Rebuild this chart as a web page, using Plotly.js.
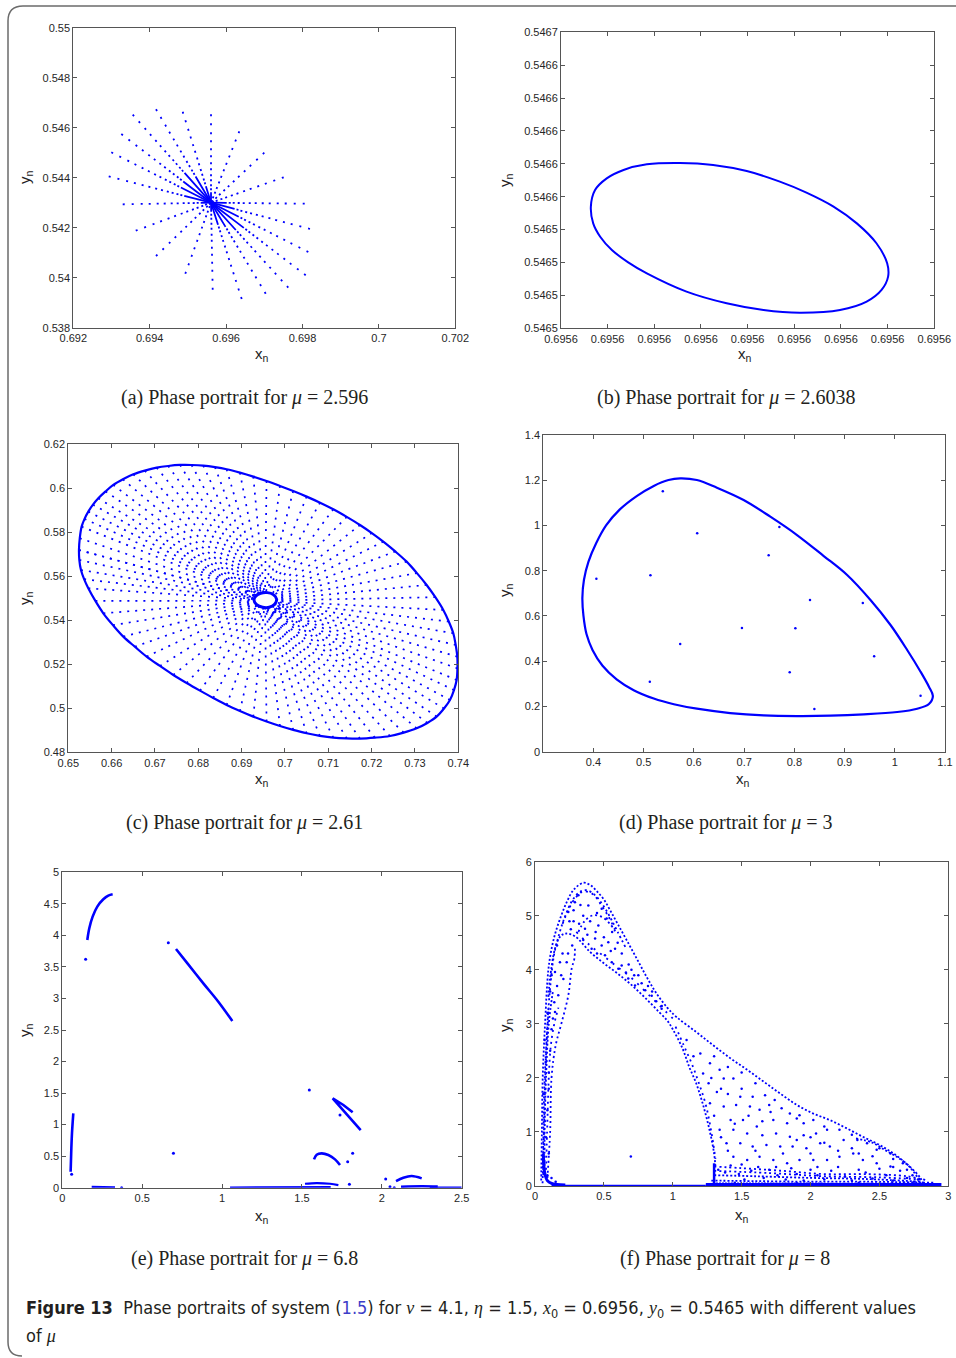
<!DOCTYPE html>
<html>
<head>
<meta charset="utf-8">
<script src="https://cdn.plot.ly/plotly-3.0.1.min.js"></script>
<style>
  html, body { margin: 0; padding: 0; background: #ffffff; }
  #fig { width: 956px; height: 1358px; }
</style>
</head>
<body>
<div id="fig"></div>
<script>
// ---------------- (a) mu = 2.596 : orbit collapsing onto the fixed point ----------------
const aCenter = [0.695605, 0.543000];
const aRayEndX = [0.694165, 0.694864, 0.695605, 0.693555, 0.696346, 0.693257, 0.697000, 0.692995,
                  0.692927, 0.697508, 0.693293, 0.698058, 0.693634, 0.698196, 0.694165, 0.698152,
                  0.694932, 0.698084, 0.695649, 0.697628, 0.696408, 0.697037];
const aRayEndY = [0.546736, 0.546640, 0.546536, 0.546520, 0.545856, 0.545748, 0.545000, 0.545016,
                  0.544056, 0.544016, 0.542936, 0.542960, 0.541880, 0.541948, 0.540868, 0.541028,
                  0.540160, 0.540096, 0.539520, 0.539600, 0.539148, 0.539360];
const aTickX = [0.692, 0.694, 0.696, 0.698, 0.700, 0.702];
const aTickXText = ['0.692', '0.694', '0.696', '0.698', '0.7', '0.702'];
const aTickY = [0.538, 0.540, 0.542, 0.544, 0.546, 0.548, 0.550];
const aTickYText = ['0.538', '0.54', '0.542', '0.544', '0.546', '0.548', '0.55'];

// ---------------- (b) mu = 2.6038 : small invariant closed curve ----------------
const bX = [0.6955855, 0.6955926, 0.6955998, 0.6956069, 0.6956126, 0.6956184, 0.6956234, 0.6956276,
            0.6956299, 0.6956301, 0.6956287, 0.6956255, 0.6956198, 0.6956112, 0.6956034, 0.6955955,
            0.6955869, 0.6955784, 0.6955744, 0.6955709, 0.6955684, 0.6955669, 0.6955664, 0.6955673,
            0.6955698, 0.6955734, 0.6955784, 0.6955855];
const bY = [0.5465805, 0.5465793, 0.5465756, 0.5465692, 0.5465625, 0.5465540, 0.5465438, 0.5465317,
            0.5465195, 0.5465114, 0.5465033, 0.5464962, 0.5464911, 0.5464895, 0.5464911, 0.5464952,
            0.5465023, 0.5465134, 0.5465201, 0.5465276, 0.5465357, 0.5465438, 0.5465540, 0.5465641,
            0.5465712, 0.5465763, 0.5465797, 0.5465805];
const bTickX = [0.69556, 0.69557, 0.69558, 0.69559, 0.69560, 0.69561, 0.69562, 0.69563, 0.69564];
const bTickXText = ['0.6956', '0.6956', '0.6956', '0.6956', '0.6956', '0.6956', '0.6956', '0.6956', '0.6956'];
const bTickY = [0.54648, 0.54650, 0.54652, 0.54654, 0.54656, 0.54658, 0.54660, 0.54662, 0.54664, 0.54666];
const bTickYText = ['0.5465', '0.5465', '0.5465', '0.5465', '0.5466', '0.5466', '0.5466', '0.5466', '0.5466', '0.5467'];

// ---------------- (c) mu = 2.61 : orbit spiralling out to the invariant circle ----------------
const cCenter = [0.695385, 0.548939];
const cEdgeX = [0.652462, 0.652650, 0.653077, 0.653750, 0.654615, 0.655700, 0.656923, 0.658600,
                0.660385, 0.662600, 0.665000, 0.667650, 0.670385, 0.673050, 0.675769, 0.678450,
                0.681154, 0.683850, 0.686538, 0.689600, 0.692692, 0.695750, 0.698846, 0.701900,
                0.705000, 0.708100, 0.711154, 0.714250, 0.717308, 0.720050, 0.722692, 0.725450,
                0.728077, 0.730450, 0.732692, 0.734700, 0.736538, 0.737800, 0.738846, 0.739400,
                0.739769, 0.739800, 0.739615, 0.739000, 0.738077, 0.736700, 0.735000, 0.732850,
                0.730385, 0.727400, 0.724231, 0.720750, 0.717308, 0.714250, 0.711154, 0.708050,
                0.705000, 0.701900, 0.698846, 0.695750, 0.692692, 0.689600, 0.686538, 0.683450,
                0.680385, 0.677300, 0.674231, 0.671150, 0.668077, 0.665350, 0.662692, 0.660300,
                0.658077, 0.656250, 0.654615, 0.653650, 0.652923, 0.652550, 0.652462];
const cEdgeY = [0.571970, 0.577300, 0.582576, 0.586100, 0.589394, 0.592550, 0.595455, 0.598600,
                0.601515, 0.604100, 0.606364, 0.608050, 0.609394, 0.610150, 0.610606, 0.610600,
                0.610303, 0.609600, 0.608636, 0.607100, 0.605303, 0.603300, 0.601061, 0.598750,
                0.596212, 0.593450, 0.590455, 0.587000, 0.583333, 0.579650, 0.575758, 0.571300,
                0.566667, 0.561450, 0.556061, 0.550500, 0.544697, 0.539450, 0.534091, 0.528800,
                0.523485, 0.518150, 0.512879, 0.508300, 0.503788, 0.499900, 0.496212, 0.493350,
                0.490909, 0.488950, 0.487424, 0.486650, 0.486212, 0.486300, 0.486667, 0.487500,
                0.488636, 0.490200, 0.491970, 0.494000, 0.496212, 0.498750, 0.501515, 0.504700,
                0.508030, 0.511500, 0.515152, 0.519250, 0.523485, 0.528000, 0.532576, 0.537800,
                0.543182, 0.548800, 0.554545, 0.558700, 0.562879, 0.567400, 0.571970];
const cHoleX = [0.692846, 0.693308, 0.694385, 0.695923, 0.697308, 0.698077, 0.697615, 0.696385,
                0.694846, 0.693462, 0.692846];
const cHoleY = [0.549242, 0.551061, 0.552273, 0.552576, 0.551667, 0.549545, 0.547273, 0.545909,
                0.545909, 0.547121, 0.549242];
const cTickX = [0.65, 0.66, 0.67, 0.68, 0.69, 0.70, 0.71, 0.72, 0.73, 0.74];
const cTickXText = ['0.65', '0.66', '0.67', '0.68', '0.69', '0.7', '0.71', '0.72', '0.73', '0.74'];
const cTickY = [0.48, 0.50, 0.52, 0.54, 0.56, 0.58, 0.60, 0.62];
const cTickYText = ['0.48', '0.5', '0.52', '0.54', '0.56', '0.58', '0.6', '0.62'];

// ---------------- (d) mu = 3 : closed invariant curve and transient iterates ----------------
const dLoopX = [0.8053, 0.7388, 0.6723, 0.6059, 0.5600, 0.5200, 0.4800, 0.4460, 0.4180, 0.3980,
                0.3860, 0.3800, 0.3778, 0.3810, 0.3900, 0.4050, 0.4250, 0.4520, 0.4860, 0.5200,
                0.5493, 0.5726, 0.6059, 0.6457, 0.6989, 0.7521, 0.8053, 0.8585, 0.9051, 0.9516,
                0.9915, 1.0247, 1.0513, 1.0680, 1.0759, 1.0680, 1.0447, 1.0048, 0.9383, 0.8718,
                0.8053];
const dLoopY = [0.1577, 0.1606, 0.1709, 0.1901, 0.2100, 0.2350, 0.2720, 0.3200, 0.3800, 0.4500,
                0.5200, 0.6000, 0.6800, 0.7600, 0.8400, 0.9200, 1.0000, 1.0700, 1.1300, 1.1750,
                1.2010, 1.2084, 1.2010, 1.1671, 1.1126, 1.0389, 0.9578, 0.8650, 0.7810, 0.6705,
                0.5600, 0.4495, 0.3537, 0.2874, 0.2461, 0.2107, 0.1901, 0.1754, 0.1650, 0.1592,
                0.1577];
const dDotX = [0.5380, 0.6065, 0.7701, 0.7488, 0.4057, 0.5134, 0.8312, 0.9363, 0.8020, 0.5726,
               0.9589, 0.7907, 0.5121, 0.8398, 1.0513];
const dDotY = [1.1509, 0.9652, 0.9932, 0.8680, 0.7648, 0.7795, 0.6705, 0.6572, 0.5452, 0.4760,
               0.4215, 0.3507, 0.3095, 0.1886, 0.2476];
const dTickX = [0.4, 0.5, 0.6, 0.7, 0.8, 0.9, 1.0, 1.1];
const dTickXText = ['0.4', '0.5', '0.6', '0.7', '0.8', '0.9', '1', '1.1'];
const dTickY = [0, 0.2, 0.4, 0.6, 0.8, 1.0, 1.2, 1.4];
const dTickYText = ['0', '0.2', '0.4', '0.6', '0.8', '1', '1.2', '1.4'];

// initial state x0, y0
const x0 = 0.6956, y0 = 0.5465;

// ---------------- (e) mu = 6.8 : broken invariant curve ----------------
const eArcX = [0.1565, 0.1690, 0.1899, 0.2191, 0.2567, 0.2880, 0.3151];
const eArcY = [3.927, 4.112, 4.297, 4.456, 4.572, 4.630, 4.651];
const eDiagX = [0.7116, 0.7784, 0.8827, 0.9766, 1.0643];
const eDiagY = [3.784, 3.573, 3.240, 2.949, 2.643];
const eStemX = [0.0522, 0.0563, 0.0605, 0.0689];
const eStemY = [0.2537, 0.5973, 0.8615, 1.1786];
const eHookX = [1.5755, 1.5922, 1.6235, 1.6653, 1.7070, 1.7383];
const eHookY = [0.4493, 0.5233, 0.5444, 0.5180, 0.4493, 0.3594];
const eWedgeX = [1.8176, 1.7592, 1.6924, 1.7592, 1.8176, 1.8677];
const eWedgeY = [1.1945, 1.3108, 1.4165, 1.2209, 1.0571, 0.9144];
const eCapX = [2.0889, 2.1348, 2.1870, 2.2496];
const eCapY = [0.1057, 0.1586, 0.1850, 0.1480];
const eFloor1X = [0.184, 0.25, 0.33], eFloor1Y = [0.012, 0.010, 0.005];
const eFloor2X = [1.05, 1.30, 1.50, 1.68], eFloor2Y = [0.002, 0.004, 0.008, 0.010];
const eFloor3X = [1.519, 1.592, 1.676, 1.728], eFloor3Y = [0.063, 0.074, 0.063, 0.042];
const eFloor4X = [2.12, 2.25, 2.35], eFloor4Y = [0.015, 0.022, 0.018];
const eFloor5X = [2.30, 2.50], eFloor5Y = [0.003, 0.003];
const eDotX = [0.1461, 0.6636, 1.5463, 1.7383, 1.7863, 1.8176, 1.797, 2.0242, 2.051, 0.0584, 0.3715, 2.078];
const eDotY = [3.620, 3.885, 1.5486, 1.1522, 0.4123, 0.5444, 0.053, 0.1374, 0.016, 0.2114, 0.0, 0.0];
const eTickX = [0, 0.5, 1, 1.5, 2, 2.5];
const eTickXText = ['0', '0.5', '1', '1.5', '2', '2.5'];
const eTickY = [0, 0.5, 1, 1.5, 2, 2.5, 3, 3.5, 4, 4.5, 5];
const eTickYText = ['0', '0.5', '1', '1.5', '2', '2.5', '3', '3.5', '4', '4.5', '5'];

// ---------------- (f) mu = 8 : chaotic attractor ----------------
const fOuterX = [0.045, 0.05, 0.056, 0.073, 0.097, 0.121, 0.15, 0.19, 0.23, 0.28, 0.351, 0.40, 0.45,
                 0.50, 0.55, 0.60, 0.665, 0.74, 0.81, 0.88, 0.96, 1.03, 1.17, 1.29, 1.42, 1.54,
                 1.66, 1.78, 1.90, 2.02, 2.14, 2.26, 2.38, 2.50, 2.62, 2.72, 2.80, 2.82];
const fOuterY = [0.10, 1.0, 2.0, 3.0, 4.0, 4.4, 4.7, 5.0, 5.25, 5.48, 5.61, 5.57, 5.45,
                 5.30, 5.08, 4.85, 4.55, 4.20, 3.87, 3.57, 3.30, 3.12, 2.85, 2.61, 2.36, 2.15,
                 1.93, 1.71, 1.50, 1.34, 1.22, 1.07, 0.91, 0.76, 0.57, 0.36, 0.14, 0.02];
const fOuter2X = [0.06, 0.065, 0.075, 0.09, 0.115, 0.14, 0.18, 0.22, 0.27, 0.33, 0.38, 0.44, 0.50, 0.55, 0.60, 0.66];
const fOuter2Y = [0.2, 1.0, 2.0, 3.0, 3.8, 4.3, 4.7, 5.0, 5.28, 5.45, 5.47, 5.37, 5.17, 4.95, 4.70, 4.40];
const fCap2X = [0.20, 0.25, 0.30, 0.35, 0.42, 0.48, 0.53, 0.58];
const fCap2Y = [4.85, 5.15, 5.35, 5.45, 5.40, 5.20, 5.00, 4.75];
const fMidX = [0.07, 0.07, 0.08, 0.10, 0.13];
const fMidY = [0.3, 1.0, 2.0, 3.0, 3.6];
const fLeft3X = [0.055, 0.06, 0.065, 0.08, 0.10];
const fLeft3Y = [0.05, 0.8, 1.6, 2.5, 3.3];
const fLeft4X = [0.08, 0.09, 0.10, 0.115, 0.14, 0.17];
const fLeft4Y = [0.3, 1.2, 2.0, 2.6, 3.0, 3.3];
const fInnerX = [0.09, 0.11, 0.12, 0.15, 0.194, 0.242, 0.266, 0.286, 0.29];
const fInnerY = [0.15, 1.0, 2.0, 2.6, 3.03, 3.53, 4.02, 4.21, 4.45];
const fArchX = [0.097, 0.109, 0.145, 0.181, 0.218, 0.29, 0.40, 0.50, 0.60, 0.70, 0.80, 0.90, 0.96,
                1.00, 1.07, 1.12, 1.17, 1.22, 1.27, 1.30, 1.31];
const fArchY = [3.5, 3.84, 4.39, 4.61, 4.67, 4.62, 4.33, 4.12, 3.93, 3.72, 3.48, 3.22, 3.06,
                2.9, 2.55, 2.2, 1.9, 1.5, 1.0, 0.6, 0.35];
const fDiag2X = [0.30, 0.40, 0.50, 0.60, 0.70, 0.80, 0.90, 1.00];
const fDiag2Y = [4.70, 4.45, 4.25, 4.05, 3.85, 3.60, 3.35, 3.10];
const fSteep2X = [1.02, 1.08, 1.14, 1.19, 1.24, 1.28, 1.31];
const fSteep2Y = [2.95, 2.60, 2.25, 1.90, 1.50, 1.00, 0.50];
const fCapX = [0.315, 0.363, 0.423, 0.484, 0.544, 0.593];
const fCapY = [4.70, 4.91, 5.01, 4.98, 4.85, 4.67];
const fRimX = [2.33, 2.45, 2.55, 2.65, 2.72, 2.78];
const fRimY = [0.88, 0.80, 0.65, 0.50, 0.35, 0.15];
const fBandAX = [1.30, 1.5, 1.8, 2.1, 2.4, 2.7, 2.85], fBandAY = [0.36, 0.33, 0.28, 0.22, 0.22, 0.18, 0.10];
const fBandBX = [1.30, 1.6, 2.0, 2.4, 2.8], fBandBY = [0.20, 0.18, 0.15, 0.13, 0.08];
const fBandCX = [1.28, 1.6, 2.0, 2.4, 2.9], fBandCY = [0.10, 0.09, 0.08, 0.08, 0.06];
const fBandDX = [1.30, 1.7, 2.1, 2.5, 2.8], fBandDY = [0.28, 0.24, 0.18, 0.16, 0.12];
const fBandEX = [1.29, 1.7, 2.2, 2.6, 2.88], fBandEY = [0.05, 0.05, 0.045, 0.045, 0.04];
const fFloorX = [1.24, 2.95], fFloorY = [0.02, 0.02];
const fBaseX = [0.12, 1.24], fBaseY = [0.01, 0.01];
const fEdgeX = [1.30, 1.30], fEdgeY = [0.0, 0.42];
const fCornerX = [0.06, 0.07, 0.09, 0.12, 0.16, 0.22], fCornerY = [0.6, 0.25, 0.10, 0.05, 0.03, 0.02];
const fScatX = [1.44, 1.37, 1.26, 1.32, 1.49, 1.58, 1.67, 1.74, 1.27, 1.37, 1.46, 1.56, 1.63, 1.71, 1.79,
                1.85, 1.92, 1.42, 1.51, 1.61, 1.73, 1.83, 1.95, 2.02, 1.34, 1.44, 1.54, 1.65, 1.75, 1.85,
                1.95, 2.04, 2.12, 2.21, 1.39, 1.49, 1.58, 1.68, 1.78, 1.87, 1.97, 2.07, 2.14, 2.24, 2.34,
                2.41, 2.48, 2.58, 1.44, 1.54, 1.63, 1.73, 1.83, 1.92, 2.02, 2.12, 2.21, 2.31, 2.38, 2.48,
                2.58, 2.67, 2.74, 1.20, 1.27, 1.34, 1.22, 1.10, 1.15, 1.30, 1.50, 1.60, 1.40,
                1.50, 1.70, 1.90, 2.10, 2.30, 2.50, 2.20, 2.00, 1.80, 1.60, 1.40, 1.35, 1.45, 1.55,
                1.65, 1.90, 2.00, 2.10, 2.30, 2.45, 2.60, 2.70, 1.40, 1.30, 1.28, 1.35, 2.35, 2.05,
                1.75, 1.50,
                1.33, 1.38, 1.42, 1.48, 1.52, 1.57, 1.62, 1.66, 1.70, 1.76, 1.82, 1.86, 1.90, 1.95,
                2.00, 2.05, 2.10, 2.15, 2.20, 2.25, 2.30, 2.35, 2.40, 2.45, 2.50, 2.55, 2.60, 2.65,
                2.70, 2.75, 2.78, 1.45, 1.90, 2.35, 2.60,
                0.436, 0.484, 0.411, 0.532, 0.581, 0.508, 0.557, 0.629, 0.605, 0.677, 0.66, 0.726, 0.774,
                0.72, 0.80, 0.847, 0.88, 0.919, 0.363, 0.460, 0.290, 0.387, 0.484, 0.242, 0.315, 0.230,
                0.206, 0.169, 0.145, 0.181, 0.145,
                0.25, 0.28, 0.33, 0.35, 0.40, 0.45, 0.52, 0.56, 0.60, 0.63, 0.68, 0.70, 0.75, 0.82,
                0.85, 0.92, 0.32, 0.38, 0.44, 0.50, 0.55, 0.45, 0.35, 0.26, 0.28,
                0.06, 0.08, 0.09, 0.06, 0.10, 0.08, 0.11, 0.07, 0.12, 0.09, 0.14, 0.11, 0.10, 0.09,
                0.12, 0.15, 0.07, 0.10, 0.13, 0.16, 0.12, 0.19, 0.20, 0.16, 0.27, 0.24];
const fScatY = [1.99, 1.99, 1.90, 1.74, 1.65, 1.65, 1.68, 1.59, 1.53, 1.47, 1.50, 1.47, 1.41, 1.37, 1.44,
                1.34, 1.31, 1.22, 1.22, 1.10, 1.22, 1.16, 1.16, 1.22, 1.04, 1.04, 0.97, 0.94, 0.97, 0.91,
                0.94, 0.97, 1.04, 1.04, 0.79, 0.79, 0.73, 0.76, 0.73, 0.73, 0.70, 0.79, 0.73, 0.85, 0.85,
                0.79, 0.67, 0.60, 0.54, 0.48, 0.54, 0.48, 0.42, 0.48, 0.48, 0.48, 0.54, 0.60, 0.48, 0.42,
                0.36, 0.42, 0.20, 2.45, 2.27, 2.15, 2.08, 2.70, 2.40, 2.40, 2.10, 1.90, 2.20,
                1.80, 1.50, 1.25, 1.10, 0.95, 0.70, 0.65, 0.60, 0.60, 0.65, 0.65, 0.90, 1.15, 1.30,
                1.20, 0.85, 0.90, 0.80, 0.70, 0.55, 0.50, 0.30, 1.70, 1.30, 2.00, 1.80, 0.60, 0.35,
                0.35, 0.40,
                0.30, 0.25, 0.38, 0.22, 0.12, 0.28, 0.35, 0.15, 0.30, 0.20, 0.12, 0.33, 0.22, 0.10,
                0.30, 0.20, 0.12, 0.28, 0.35, 0.18, 0.10, 0.30, 0.25, 0.14, 0.32, 0.20, 0.10, 0.28,
                0.15, 0.08, 0.12, 0.06, 0.05, 0.06, 0.35,
                4.58, 4.45, 4.39, 4.51, 4.39, 4.27, 4.14, 4.08, 4.02, 3.84, 3.95, 3.71, 3.75,
                3.90, 3.62, 3.52, 3.42, 3.28, 4.76, 4.82, 5.25, 5.19, 5.13, 5.07, 5.38, 4.14,
                3.83, 3.53, 3.22, 4.14, 3.96,
                4.90, 5.10, 5.20, 5.00, 4.90, 5.05, 4.95, 4.70, 4.50, 4.30, 4.10, 4.00, 3.90, 3.70,
                3.60, 3.33, 4.85, 4.65, 4.70, 4.60, 4.35, 4.30, 4.55, 4.75, 4.90,
                0.50, 0.90, 1.40, 1.70, 1.80, 2.30, 2.50, 2.70, 2.90, 3.20, 3.40, 3.60, 0.60, 0.20,
                0.15, 0.08, 1.20, 2.10, 3.10, 3.70, 3.90, 3.90, 4.30, 4.45, 4.45, 4.30];
const fTickX = [0, 0.5, 1, 1.5, 2, 2.5, 3];
const fTickXText = ['0', '0.5', '1', '1.5', '2', '2.5', '3'];
const fTickY = [0, 1, 2, 3, 4, 5, 6];
const fTickYText = ['0', '1', '2', '3', '4', '5', '6'];

// ---------------- helpers ----------------
const W = 956, H = 1358;
const BLUE = '#0000ff';
const px = v => v / W;
const py = v => 1 - v / H;

function onAxes(k) {
  return { xaxis: k === 1 ? 'x' : 'x' + k, yaxis: k === 1 ? 'y' : 'y' + k };
}
function line(k, xs, ys, width, dash, shape) {
  return Object.assign({
    type: 'scatter', mode: 'lines', x: xs, y: ys, hoverinfo: 'skip',
    line: { color: BLUE, width: width, dash: dash || 'solid', shape: shape || 'linear', smoothing: 1 }
  }, onAxes(k));
}
function dots(k, xs, ys, size) {
  return Object.assign({
    type: 'scatter', mode: 'markers', x: xs, y: ys, hoverinfo: 'skip',
    marker: { color: BLUE, size: size, line: { width: 0 } }
  }, onAxes(k));
}
// dotted rays from each end point back to a common centre
function rays(k, ex, ey, c, width, dash) {
  const X = [], Y = [];
  ex.forEach((x, i) => { X.push(x, c[0], null); Y.push(ey[i], c[1], null); });
  return line(k, X, Y, width, dash);
}
// dots that crowd together as the orbit approaches the fixed point
const convergingDash = '2px,7px,2px,7px,2px,6px,2px,6px,2px,5px,2px,5px,2px,4px,2px,4px,' +
                       '2px,3px,2px,3px,2px,2px,2px,2px,60px,1px';

const axisStyle = {
  showline: true, linecolor: '#555555', linewidth: 1, mirror: 'ticks',
  ticks: 'inside', ticklen: 4, tickwidth: 1, tickcolor: '#555555',
  showgrid: false, zeroline: false, fixedrange: true, tickmode: 'array',
  tickfont: { family: 'Liberation Sans, Arial, sans-serif', size: 11, color: '#262626' }
};
function xAxis(k, l, r, range, vals, text) {
  return Object.assign({}, axisStyle, {
    domain: [px(l), px(r)], range: range, tickvals: vals, ticktext: text,
    anchor: k === 1 ? 'y' : 'y' + k
  });
}
function yAxis(k, t, b, range, vals, text) {
  return Object.assign({}, axisStyle, {
    domain: [py(b), py(t)], range: range, tickvals: vals, ticktext: text,
    anchor: k === 1 ? 'x' : 'x' + k
  });
}

// ---------------- traces ----------------
const traces = [
  // (a)
  rays(1, aRayEndX, aRayEndY, aCenter, 1.8, convergingDash),
  // (b)
  line(2, bX, bY, 2, 'solid', 'spline'),
  // (c)
  rays(3, cEdgeX, cEdgeY, cCenter, 1.7, '2px,6px'),
  line(3, cEdgeX, cEdgeY, 2.2, 'solid', 'spline'),
  Object.assign(line(3, cHoleX, cHoleY, 3, 'solid', 'spline'), { fill: 'toself', fillcolor: '#ffffff' }),
  // (d)
  line(4, dLoopX, dLoopY, 2.2, 'solid', 'spline'),
  dots(4, dDotX, dDotY, 2.5),
  dots(4, [x0], [y0], 2.5),
  // (e)
  line(5, eArcX, eArcY, 2.6, 'solid', 'spline'),
  line(5, eDiagX, eDiagY, 2.6, 'solid', 'spline'),
  line(5, eStemX, eStemY, 2.6, 'solid', 'spline'),
  line(5, eHookX, eHookY, 2.6, 'solid', 'spline'),
  line(5, eWedgeX, eWedgeY, 2.6, 'solid', 'linear'),
  line(5, eCapX, eCapY, 2.6, 'solid', 'spline'),
  line(5, eFloor1X, eFloor1Y, 2.2, 'solid'),
  line(5, eFloor2X, eFloor2Y, 2.2, 'solid'),
  line(5, eFloor3X, eFloor3Y, 2.2, 'solid', 'spline'),
  line(5, eFloor4X, eFloor4Y, 2.6, 'solid', 'spline'),
  line(5, eFloor5X, eFloor5Y, 2.2, 'solid'),
  dots(5, eDotX, eDotY, 3),
  dots(5, [x0], [y0], 3),
  // (f)
  line(6, fOuterX, fOuterY, 1.8, '2px,2px', 'spline'),
  line(6, fOuter2X, fOuter2Y, 1.8, '2px,3px', 'spline'),
  line(6, fCap2X, fCap2Y, 1.8, '2px,4px', 'spline'),
  line(6, fMidX, fMidY, 1.8, '2px,2px', 'spline'),
  line(6, fLeft3X, fLeft3Y, 1.8, '2px,3px', 'spline'),
  line(6, fLeft4X, fLeft4Y, 1.8, '2px,4px', 'spline'),
  line(6, fInnerX, fInnerY, 1.8, '2px,3px', 'spline'),
  line(6, fArchX, fArchY, 1.8, '2px,2px', 'spline'),
  line(6, fDiag2X, fDiag2Y, 1.8, '2px,6px', 'spline'),
  line(6, fSteep2X, fSteep2Y, 1.8, '2px,4px', 'spline'),
  line(6, fCapX, fCapY, 1.8, '2px,3px', 'spline'),
  line(6, fRimX, fRimY, 1.8, '2px,2px', 'spline'),
  line(6, fBandAX, fBandAY, 1.8, '2px,3px', 'spline'),
  line(6, fBandBX, fBandBY, 1.8, '2px,2px', 'spline'),
  line(6, fBandCX, fBandCY, 1.8, '2px,2px', 'spline'),
  line(6, fBandDX, fBandDY, 1.8, '2px,3px', 'spline'),
  line(6, fBandEX, fBandEY, 1.8, '2px,1px', 'spline'),
  line(6, fFloorX, fFloorY, 4, 'solid'),
  line(6, fBaseX, fBaseY, 1.5, 'solid'),
  line(6, fEdgeX, fEdgeY, 2.5, 'solid'),
  line(6, fCornerX, fCornerY, 3, 'solid', 'spline'),
  dots(6, fScatX, fScatY, 2.5),
  dots(6, [x0], [y0], 2.5)
];

// ---------------- text ----------------
const titleFont = { family: 'Liberation Sans, Arial, sans-serif', size: 15, color: '#222222' };
const capFont = { family: 'Liberation Serif, Times New Roman, serif', size: 20, color: '#231f20' };
const mu = '<i>μ</i>';
const axisTitles = [
  [262, 355, 26, 177], [745, 355, 506, 180],
  [262, 780, 25, 598], [743, 780, 505, 590],
  [262, 1216, 25, 1030], [742, 1215, 505, 1025]
];
const captions = [
  [244, 397, '(a) Phase portrait for ' + mu + ' = 2.596'],
  [726, 397, '(b) Phase portrait for ' + mu + ' = 2.6038'],
  [244, 823, '(c) Phase portrait for ' + mu + ' = 2.61'],
  [726, 823, '(d) Phase portrait for ' + mu + ' = 3'],
  [244, 1258, '(e) Phase portrait for ' + mu + ' = 6.8'],
  [725, 1258, '(f) Phase portrait for ' + mu + ' = 8']
];
const annotations = [];
axisTitles.forEach(t => {
  annotations.push({ xref: 'paper', yref: 'paper', x: px(t[0]), y: py(t[1]), text: 'x<sub>n</sub>',
    showarrow: false, font: titleFont, xanchor: 'center', yanchor: 'middle' });
  annotations.push({ xref: 'paper', yref: 'paper', x: px(t[2]), y: py(t[3]), text: 'y<sub>n</sub>',
    showarrow: false, font: titleFont, textangle: -90, xanchor: 'center', yanchor: 'middle' });
});
captions.forEach(c => {
  annotations.push({ xref: 'paper', yref: 'paper', x: px(c[0]), y: py(c[1]), text: c[2],
    showarrow: false, font: capFont, xanchor: 'center', yanchor: 'middle' });
});
const serifI = s => '<span style="font-family:Liberation Serif,serif;font-style:italic">' + s + '</span>';
const figFont = { family: 'Liberation Sans Narrow, Arial Narrow, DejaVu Sans Condensed, sans-serif', size: 18, color: '#231f20' };
annotations.push({
  xref: 'paper', yref: 'paper', x: px(24), y: py(1309), xanchor: 'left', yanchor: 'middle', showarrow: false,
  font: figFont,
  text: '<b>Figure 13</b>  Phase portraits of system (<span style="color:#3c3cc8">1.5</span>) for ' +
        serifI('ν') + ' = 4.1, ' + serifI('η') + ' = 1.5, ' + serifI('x') + '<sub>0</sub> = 0.6956, ' +
        serifI('y') + '<sub>0</sub> = 0.5465 with different values'
});
annotations.push({
  xref: 'paper', yref: 'paper', x: px(24), y: py(1335), xanchor: 'left', yanchor: 'middle', showarrow: false,
  font: figFont, text: 'of ' + serifI('μ')
});

// rounded page frame
const frame = {
  type: 'path', xref: 'paper', yref: 'paper',
  path: 'M ' + px(956) + ',' + py(6) + ' L ' + px(23) + ',' + py(6) +
        ' Q ' + px(8) + ',' + py(6) + ' ' + px(8) + ',' + py(21) +
        ' L ' + px(8) + ',' + py(1342) + ' Q ' + px(8) + ',' + py(1356) + ' ' + px(22) + ',' + py(1356),
  line: { color: '#6b6b6b', width: 1.5 }
};

const layout = {
  width: W, height: H, margin: { l: 0, r: 0, t: 0, b: 0 },
  paper_bgcolor: '#ffffff', plot_bgcolor: '#ffffff', showlegend: false, hovermode: false,
  xaxis: xAxis(1, 73.3, 455.3, [0.692, 0.702], aTickX, aTickXText),
  yaxis: yAxis(1, 27.7, 327.7, [0.538, 0.550], aTickY, aTickYText),
  xaxis2: xAxis(2, 561, 934.3, [0.69556, 0.69564], bTickX, bTickXText),
  yaxis2: yAxis(2, 32.3, 328.3, [0.54648, 0.54666], bTickY, bTickYText),
  xaxis3: xAxis(3, 68.3, 458.3, [0.65, 0.74], cTickX, cTickXText),
  yaxis3: yAxis(3, 444.3, 752.3, [0.48, 0.62], cTickY, cTickYText),
  xaxis4: xAxis(4, 543.3, 945, [0.3, 1.1], dTickX, dTickXText),
  yaxis4: yAxis(4, 435, 751.7, [0, 1.4], dTickY, dTickYText),
  xaxis5: xAxis(5, 62.3, 461.7, [0, 2.5], eTickX, eTickXText),
  yaxis5: yAxis(5, 872.3, 1187.7, [0, 5], eTickY, eTickYText),
  xaxis6: xAxis(6, 535, 948.3, [0, 3], fTickX, fTickXText),
  yaxis6: yAxis(6, 861.7, 1186, [0, 6], fTickY, fTickYText),
  annotations: annotations,
  shapes: [frame]
};

Plotly.newPlot('fig', traces, layout, { staticPlot: true, displayModeBar: false });
</script>
</body>
</html>
